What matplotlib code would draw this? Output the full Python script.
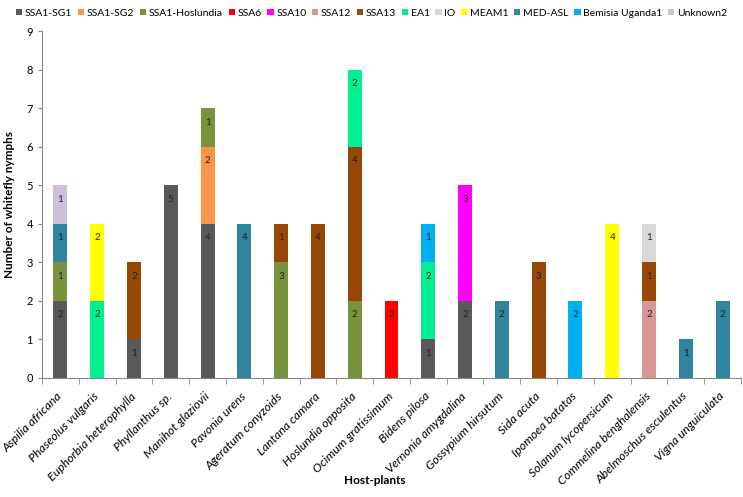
import matplotlib
matplotlib.use("Agg")
import matplotlib.pyplot as plt
import matplotlib.transforms as mtransforms
import numpy as np

plt.rcParams['font.family'] = ['Lato', 'DejaVu Sans']

hosts = ["Aspilia africana", "Phaseolus vulgaris", "Euphorbia heterophylla",
         "Phyllanthus sp.", "Manihot glaziovii", "Pavonia urens",
         "Ageratum conyzoids", "Lantana camara", "Hoslundia opposita",
         "Ocimum gratissimum", "Bidens pilosa", "Vernonia amygdalina",
         "Gossypium hirsutum", "Sida acuta", "Ipomoea batatas",
         "Solanum lycopersicum", "Commelina benghalensis",
         "Abelmoschus esculentus", "Vigna unguiculata"]

series = ["SSA1-SG1", "SSA1-SG2", "SSA1-Hoslundia", "SSA6", "SSA10", "SSA12",
          "SSA13", "EA1", "IO", "MEAM1", "MED-ASL", "Bemisia Uganda1", "Unknown2"]
colors = ["#595959", "#F79646", "#77933C", "#FF0000", "#FF00FF", "#D99694",
          "#974706", "#00F090", "#D9D9D9", "#FFFF00", "#31859C", "#00B0F0", "#CCC0DA"]

ssa1_sg1 =       [2, 0, 1, 5, 4, 0, 0, 0, 0, 0, 1, 2, 0, 0, 0, 0, 0, 0, 0]
ssa1_sg2 =       [0, 0, 0, 0, 2, 0, 0, 0, 0, 0, 0, 0, 0, 0, 0, 0, 0, 0, 0]
ssa1_hoslundia = [1, 0, 0, 0, 1, 0, 3, 0, 2, 0, 0, 0, 0, 0, 0, 0, 0, 0, 0]
ssa6 =           [0, 0, 0, 0, 0, 0, 0, 0, 0, 2, 0, 0, 0, 0, 0, 0, 0, 0, 0]
ssa10 =          [0, 0, 0, 0, 0, 0, 0, 0, 0, 0, 0, 3, 0, 0, 0, 0, 0, 0, 0]
ssa12 =          [0, 0, 0, 0, 0, 0, 0, 0, 0, 0, 0, 0, 0, 0, 0, 0, 2, 0, 0]
ssa13 =          [0, 0, 2, 0, 0, 0, 1, 4, 4, 0, 0, 0, 0, 3, 0, 0, 1, 0, 0]
ea1 =            [0, 2, 0, 0, 0, 0, 0, 0, 2, 0, 2, 0, 0, 0, 0, 0, 0, 0, 0]
io =             [0, 0, 0, 0, 0, 0, 0, 0, 0, 0, 0, 0, 0, 0, 0, 0, 1, 0, 0]
meam1 =          [0, 2, 0, 0, 0, 0, 0, 0, 0, 0, 0, 0, 0, 0, 0, 4, 0, 0, 0]
med_asl =        [1, 0, 0, 0, 0, 4, 0, 0, 0, 0, 0, 0, 2, 0, 0, 0, 0, 1, 2]
bemisia_ug1 =    [0, 0, 0, 0, 0, 0, 0, 0, 0, 0, 1, 0, 0, 0, 2, 0, 0, 0, 0]
unknown2 =       [1, 0, 0, 0, 0, 0, 0, 0, 0, 0, 0, 0, 0, 0, 0, 0, 0, 0, 0]

values = [ssa1_sg1, ssa1_sg2, ssa1_hoslundia, ssa6, ssa10, ssa12, ssa13,
          ea1, io, meam1, med_asl, bemisia_ug1, unknown2]

fig = plt.figure(figsize=(7.43, 4.97), dpi=100)
ax = fig.add_axes([42 / 743, 1 - 378 / 497, 699 / 743, 347 / 497])

x = np.arange(len(hosts))
bottom = np.zeros(len(hosts))
for name, vals, col in zip(series, values, colors):
    vals = np.array(vals, dtype=float)
    ax.bar(x, vals, 0.38, bottom=bottom, color=col, label=name)
    for xi, v, b in zip(x, vals, bottom):
        if v > 0:
            ax.annotate(str(int(v)), (xi, b + v), xytext=(0, -10),
                        textcoords="offset points", ha="center", va="center",
                        fontsize=7, color="#222222")
    bottom += vals

ax.set_xlim(-0.5, len(hosts) - 0.5)
ax.set_ylim(0, 9)
ax.set_yticks(range(10))
ax.tick_params(axis="y", labelsize=8, length=3, color="#888888")
ax.set_xticks(x)
ax.set_xticklabels(hosts, rotation=45, ha="right", rotation_mode="anchor",
                   fontsize=8.8, style="italic")
ax.tick_params(axis="x", length=0, pad=9)
# nudge the slanted labels a little to the left, like the original
shift = mtransforms.ScaledTranslation(-4 / 100, 0, fig.dpi_scale_trans)
for lab in ax.get_xticklabels():
    lab.set_transform(lab.get_transform() + shift)
ax.set_xticks(np.arange(len(hosts) + 1) - 0.5, minor=True)
ax.tick_params(axis="x", which="minor", length=4, color="#888888")
for s in ["top", "right"]:
    ax.spines[s].set_visible(False)
for s in ["left", "bottom"]:
    ax.spines[s].set_color("#888888")

ax.set_ylabel("Number of whitefly nymphs", fontsize=8.5, fontweight="bold", labelpad=8)
fig.text(0.505, 1 - 480 / 497, "Host-plants", ha="center", va="center",
         fontsize=8.5, fontweight="bold")

fig.legend(loc="upper center", bbox_to_anchor=(0.5, 0.995), ncol=13, frameon=False,
           fontsize=7.5, handlelength=0.6, handleheight=0.6, handletextpad=0.25,
           columnspacing=0.55, borderaxespad=0.2)

fig.savefig("out.png", dpi=100)
